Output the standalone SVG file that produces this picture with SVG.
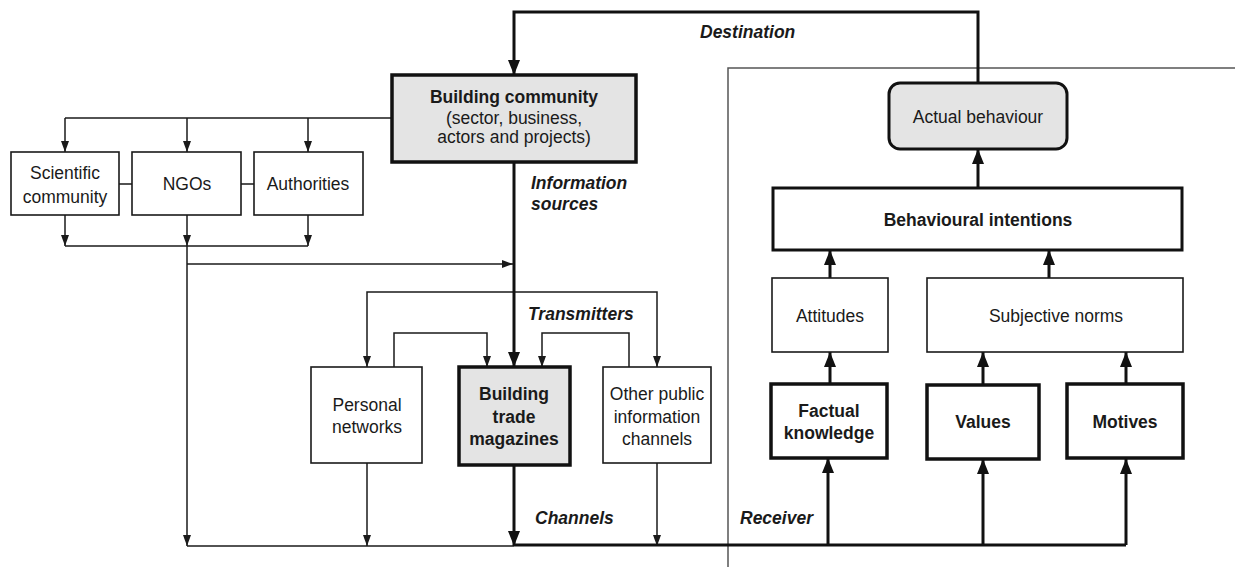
<svg xmlns="http://www.w3.org/2000/svg" width="1235" height="567" viewBox="0 0 1235 567">
<style>
text{font-family:"Liberation Sans",Arial,sans-serif;font-size:17.5px;fill:#1a1a1a;text-anchor:middle}
.b{font-weight:bold}
.lab{font-weight:bold;font-style:italic;text-anchor:start}
.box{fill:#fff;stroke:#1a1a1a;stroke-width:1.6}
.tbox{fill:#fff;stroke:#111;stroke-width:3.5}
.gbox{fill:#e4e4e4;stroke:#111;stroke-width:3.5}
.thin{fill:none;stroke:#1a1a1a;stroke-width:1.5}
.thick{fill:none;stroke:#111;stroke-width:3}
.frame{fill:none;stroke:#555;stroke-width:1.5}
</style>
<defs>
<marker id="a" viewBox="0 0 10 10" refX="10" refY="5" markerWidth="11" markerHeight="8" markerUnits="userSpaceOnUse" orient="auto" preserveAspectRatio="none"><path d="M0,0L10,5L0,10z" fill="#1a1a1a"/></marker>
<marker id="A" viewBox="0 0 10 10" refX="10" refY="5" markerWidth="15" markerHeight="12" markerUnits="userSpaceOnUse" orient="auto" preserveAspectRatio="none"><path d="M0,0L10,5L0,10z" fill="#111"/></marker>
</defs>
<rect width="1235" height="567" fill="#fff"/>
<path class="frame" d="M728,567V68H1235"/>
<g id="connectors">
<path class="thin" d="M392,118H65"/>
<path class="thin" d="M65,118V152" marker-end="url(#a)"/>
<path class="thin" d="M187,118V152" marker-end="url(#a)"/>
<path class="thin" d="M308,118V152" marker-end="url(#a)"/>
<path class="thin" d="M119,184H132M241,184H254"/>
<path class="thin" d="M65,215V246" marker-end="url(#a)"/>
<path class="thin" d="M187,215V246" marker-end="url(#a)"/>
<path class="thin" d="M308,215V246" marker-end="url(#a)"/>
<path class="thin" d="M65,246H308"/>
<path class="thin" d="M187,246V546" marker-end="url(#a)"/>
<path class="thin" d="M187,264H513" marker-end="url(#a)"/>
<path class="thin" d="M187,546H514"/>
<path class="thin" d="M514,292H367V367" marker-end="url(#a)"/>
<path class="thin" d="M514,292H657V367" marker-end="url(#a)"/>
<path class="thin" d="M394,367V333H487V367" marker-end="url(#a)"/>
<path class="thin" d="M629,367V333H542V367" marker-end="url(#a)"/>
<path class="thin" d="M367,463V546" marker-end="url(#a)"/>
<path class="thin" d="M657,463V546" marker-end="url(#a)"/>
<path class="thick" d="M514,162V367" marker-end="url(#A)"/>
<path class="thick" d="M978,83V12H514V75" marker-end="url(#A)"/>
<path class="thick" d="M514,465V546" marker-end="url(#A)"/>
<path class="thick" d="M514,545H1126"/>
<path class="thick" d="M828,545V458" marker-end="url(#A)"/>
<path class="thick" d="M983,545V459" marker-end="url(#A)"/>
<path class="thick" d="M1126,545V459" marker-end="url(#A)"/>
<path class="thick" d="M830,384V352" marker-end="url(#A)"/>
<path class="thick" d="M983,385V352" marker-end="url(#A)"/>
<path class="thick" d="M1126,385V352" marker-end="url(#A)"/>
<path class="thick" d="M830,278V250" marker-end="url(#A)"/>
<path class="thick" d="M1049,278V250" marker-end="url(#A)"/>
<path class="thick" d="M978,188V149" marker-end="url(#A)"/>
</g>
<g id="labels">
<text class="lab" x="700" y="38">Destination</text>
<text class="lab" x="531" y="189">Information</text>
<text class="lab" x="531" y="210">sources</text>
<text class="lab" x="528" y="320">Transmitters</text>
<text class="lab" x="535" y="524">Channels</text>
<text class="lab" x="740" y="524">Receiver</text>
</g>
<g id="building-community"><rect class="gbox" x="392" y="75" width="244" height="87"/>
<text class="b" x="514" y="103">Building community</text><text x="514" y="124">(sector, business,</text><text x="514" y="143">actors and projects)</text></g>
<g id="scientific"><rect class="box" x="11" y="152" width="108" height="63"/><text x="65" y="179">Scientific</text><text x="65" y="203">community</text></g>
<g id="ngos"><rect class="box" x="132" y="152" width="109" height="63"/><text x="187" y="190">NGOs</text></g>
<g id="authorities"><rect class="box" x="254" y="152" width="109" height="63"/><text x="308" y="190">Authorities</text></g>
<g id="personal"><rect class="box" x="311" y="367" width="111" height="96"/><text x="367" y="411">Personal</text><text x="367" y="433">networks</text></g>
<g id="magazines"><rect class="gbox" x="459" y="367" width="111" height="98"/><text class="b" x="514" y="400">Building</text><text class="b" x="514" y="423">trade</text><text class="b" x="514" y="445">magazines</text></g>
<g id="other-public"><rect class="box" x="603" y="367" width="108" height="96"/><text x="657" y="400">Other public</text><text x="657" y="423">information</text><text x="657" y="445">channels</text></g>
<g id="actual-behaviour"><rect class="gbox" x="889" y="83" width="178" height="66" rx="11" style="stroke-width:3"/><text x="978" y="123">Actual behaviour</text></g>
<g id="intentions"><rect class="tbox" x="773" y="188" width="409" height="62" style="stroke-width:3"/><text class="b" x="978" y="226">Behavioural intentions</text></g>
<g id="attitudes"><rect class="box" x="772" y="278" width="116" height="74"/><text x="830" y="322">Attitudes</text></g>
<g id="norms"><rect class="box" x="927" y="278" width="256" height="74"/><text x="1056" y="322">Subjective norms</text></g>
<g id="factual"><rect class="tbox" x="771" y="384" width="116" height="74"/><text class="b" x="829" y="417">Factual</text><text class="b" x="829" y="439">knowledge</text></g>
<g id="values"><rect class="tbox" x="927" y="385" width="112" height="74"/><text class="b" x="983" y="428">Values</text></g>
<g id="motives"><rect class="tbox" x="1067" y="384" width="116" height="74"/><text class="b" x="1125" y="428">Motives</text></g>
</svg>
